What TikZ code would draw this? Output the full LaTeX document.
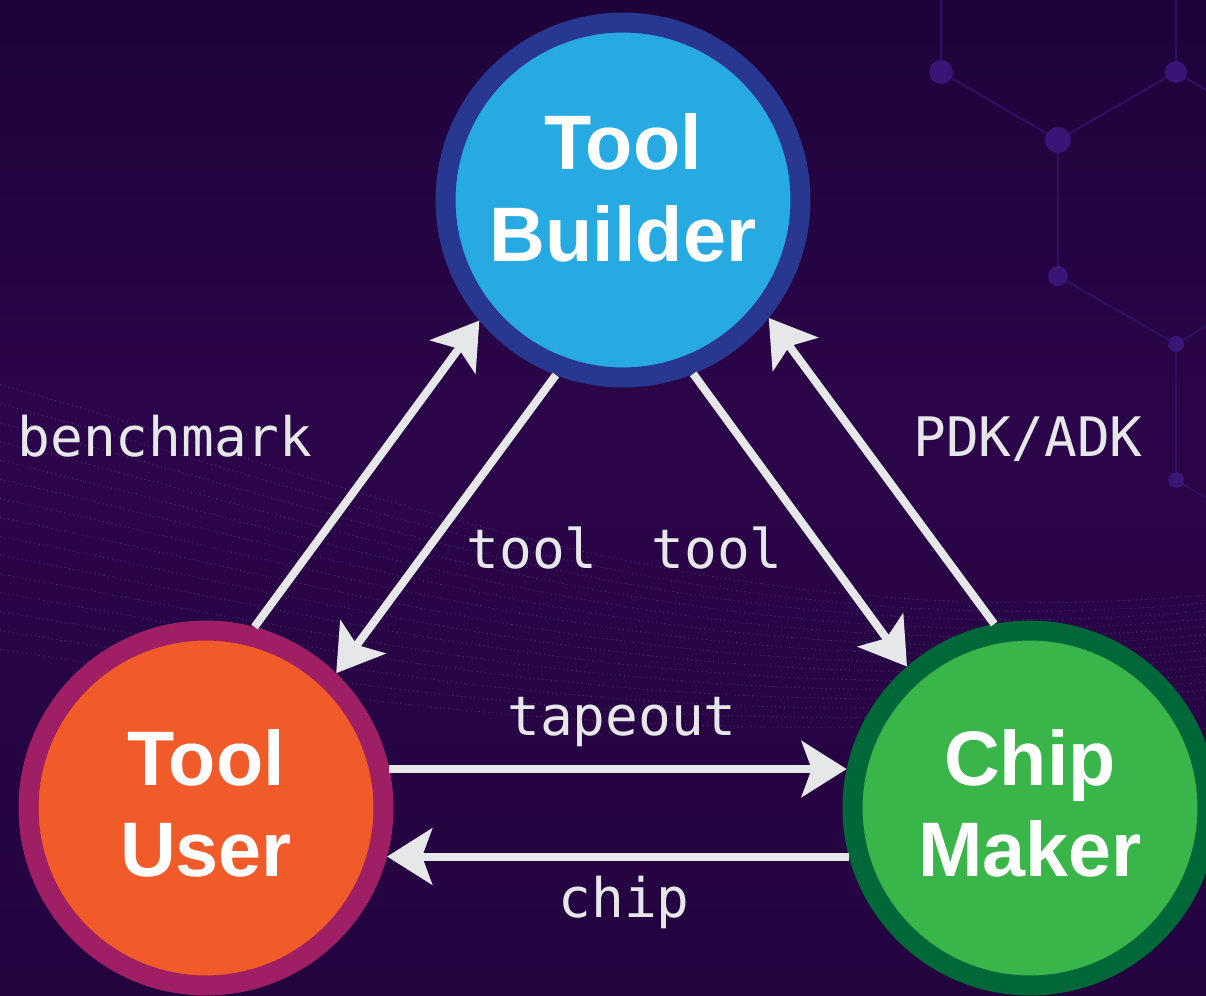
\documentclass[tikz,border=0pt]{standalone}
\usepackage{fontspec}
\setsansfont{Liberation Sans}
\setmonofont{DejaVu Sans Mono}
\usetikzlibrary{arrows.meta}

\definecolor{bgtop}{HTML}{1D0339}
\definecolor{bgmid}{HTML}{2B0549}
\definecolor{bgbot}{HTML}{23043F}
\definecolor{hexline}{HTML}{2F0F5E}
\definecolor{hexdot}{HTML}{3A1476}
\definecolor{wavedot}{HTML}{7A78D0}
\definecolor{arrowgray}{HTML}{E6E7E8}
\definecolor{builderring}{HTML}{283891}
\definecolor{builderfill}{HTML}{27AAE1}
\definecolor{userring}{HTML}{9E1F63}
\definecolor{userfill}{HTML}{F15A29}
\definecolor{makerring}{HTML}{006838}
\definecolor{makerfill}{HTML}{39B54A}

\begin{document}
\begin{tikzpicture}[x=0.02cm, y=-0.02cm,
    role/.style={draw, circle, line width=0.4cm, minimum size=7.1cm, inner sep=0pt,
        align=center, text=white, text depth=0.2cm,
        font=\sffamily\bfseries\fontsize{44}{52}\selectfont},
    flow/.style={draw=arrowgray, line width=0.16cm,
        -{Stealth[length=0.9cm, width=1.12cm, inset=0.2cm]}},
    lbl/.style={text=arrowgray, anchor=base, inner sep=0pt,
        font=\ttfamily\fontsize{31}{36}\selectfont}]
    \useasboundingbox (0,0) rectangle (1206,996);
    \clip (0,0) rectangle (1206,996);

    % Background
    \shade[top color=bgtop, bottom color=bgmid] (0,0) rectangle (1206,420);
    \shade[top color=bgmid, bottom color=bgbot] (0,420) rectangle (1206,996);

    % Wave of dotted lines
    \foreach \i in {0,...,14} {
        \draw[wavedot, opacity=0.45, line width=0.5pt, dotted]
            (0,{385+18.9*\i}) .. controls (350,{480+15.7*\i}) and (700,{640+8.6*\i}) .. (1206,{595+7.9*\i});
    }

    % Hex network, top right
    \draw[hexline, line width=1.2pt]
        (941,0) -- (941,72) -- (1058,140) -- (1176,72) -- (1176,0)
        (1176,72) -- (1206,90)
        (1058,140) -- (1058,276) -- (1176,344) -- (1206,326)
        (1176,344) -- (1176,480) -- (1206,498);
    \fill[hexdot] (941,72) circle (12) (1176,72) circle (11) (1058,140) circle (13)
        (1058,276) circle (10) (1176,344) circle (8) (1176,480) circle (8);

    % Roles
    \node[role, draw=builderring, fill=builderfill, text depth=0.5cm] (builder) at (623,200) {Tool\\Builder};
    \node[role, draw=userring, fill=userfill] (user) at (206,808) {Tool\\User};
    \node[role, draw=makerring, fill=makerfill] (maker) at (1030,808) {Chip\\Maker};

    % Flows
    \draw[flow] (user.75) -- (builder.220);
    \draw[flow] (builder.249) -- (user.46);
    \draw[flow] (builder.292) -- (maker.131);
    \draw[flow] (maker.101) -- (builder.321);
    \draw[flow] (user.12) -- (maker.168);
    \draw[flow] (maker.195) -- (user.345);

    % Labels
    \node[lbl] (benchmark) at (165,457) {benchmark};
    \node[lbl] (pdkadk) at (1028,457) {PDK/ADK};
    \node[lbl] (toolleft) at (532,568) {tool};
    \node[lbl] (toolright) at (717,568) {tool};
    \node[lbl] (tapeout) at (622,735) {tapeout};
    \node[lbl] (chip) at (624,917) {chip};
\end{tikzpicture}
\end{document}
